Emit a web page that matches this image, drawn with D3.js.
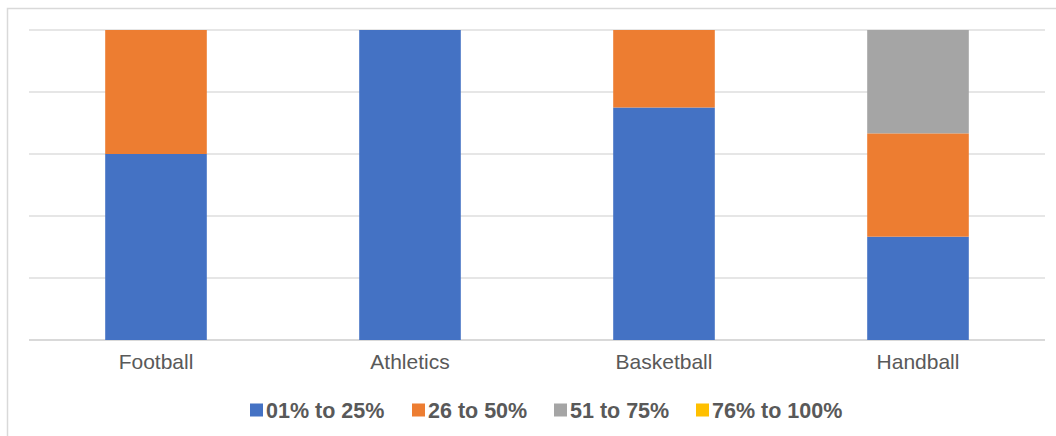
<!DOCTYPE html>
<html>
<head>
<meta charset="utf-8">
<script src="https://cdn.jsdelivr.net/npm/d3@7/dist/d3.min.js"></script>
<style>
  html, body { margin: 0; padding: 0; background: #fff; }
  svg { display: block; font-family: Arial, "Liberation Sans", sans-serif; }
</style>
</head>
<body>
<svg id="chart" width="1056" height="436"></svg>
<script>
// Sports and the share of respondents in each percentage band
const categories = ["Football", "Athletics", "Basketball", "Handball"];
const seriesNames = ["01% to 25%", "26 to 50%", "51 to 75%", "76% to 100%"];
const band1 = [60, 100, 75, 33.33];
const band2 = [40, 0, 25, 33.33];
const band3 = [0, 0, 0, 33.34];
const band4 = [0, 0, 0, 0];
const colors = ["#4472c4", "#ed7d31", "#a5a5a5", "#ffc000"];
const gridTicks = [0, 20, 40, 60, 80, 100];

const svg = d3.select("#chart");
const W = 1056, H = 436;
const plotLeft = 29, plotRight = 1045, plotTop = 30, plotBottom = 340;

// chart area border
svg.append("rect")
  .attr("x", 7.5).attr("y", 8.5)
  .attr("width", W).attr("height", H)
  .attr("fill", "none").attr("stroke", "#d9d9d9").attr("stroke-width", 1.5);

const x = d3.scaleBand().domain(categories).range([plotLeft, plotRight])
  .paddingInner(0.6).paddingOuter(0.3);
const y = d3.scaleLinear().domain([0, 100]).range([plotBottom, plotTop]);

// horizontal gridlines
svg.append("g").selectAll("line").data(gridTicks).join("line")
  .attr("x1", plotLeft).attr("x2", plotRight)
  .attr("y1", d => y(d)).attr("y2", d => y(d))
  .attr("stroke", d => d === 0 ? "#d9d9d9" : "#e6e6e6")
  .attr("stroke-width", 2);

// stacked columns
const rows = categories.map((c, i) => ({
  cat: c, s0: band1[i], s1: band2[i], s2: band3[i], s3: band4[i]
}));
const stack = d3.stack().keys(["s0", "s1", "s2", "s3"]);
const layers = stack(rows);

svg.append("g").selectAll("g").data(layers).join("g")
  .attr("fill", (d, i) => colors[i])
  .selectAll("rect").data(d => d).join("rect")
  .attr("x", d => x(d.data.cat))
  .attr("width", x.bandwidth())
  .attr("y", d => y(d[1]))
  .attr("height", d => Math.max(0, y(d[0]) - y(d[1])));

// category labels
const xAxis = d3.axisBottom(x).tickSize(0).tickPadding(14);
const gx = svg.append("g").attr("transform", `translate(0,${plotBottom})`).call(xAxis);
gx.select(".domain").remove();
gx.selectAll("text").attr("font-size", 21).attr("fill", "#595959")
  .attr("font-family", "Arial, 'Liberation Sans', sans-serif");

// legend
const legendX = [250, 412, 554, 696];
const lg = svg.append("g").selectAll("g").data(seriesNames).join("g")
  .attr("transform", (d, i) => `translate(${legendX[i]},410)`);
lg.append("rect").attr("x", 0).attr("y", -6.5).attr("width", 13).attr("height", 13)
  .attr("fill", (d, i) => colors[i]);
lg.append("text").attr("x", 16).attr("y", 0).attr("dy", "0.36em")
  .attr("font-size", 21.5).attr("font-weight", "bold").attr("fill", "#595959")
  .text(d => d);
</script>
</body>
</html>
